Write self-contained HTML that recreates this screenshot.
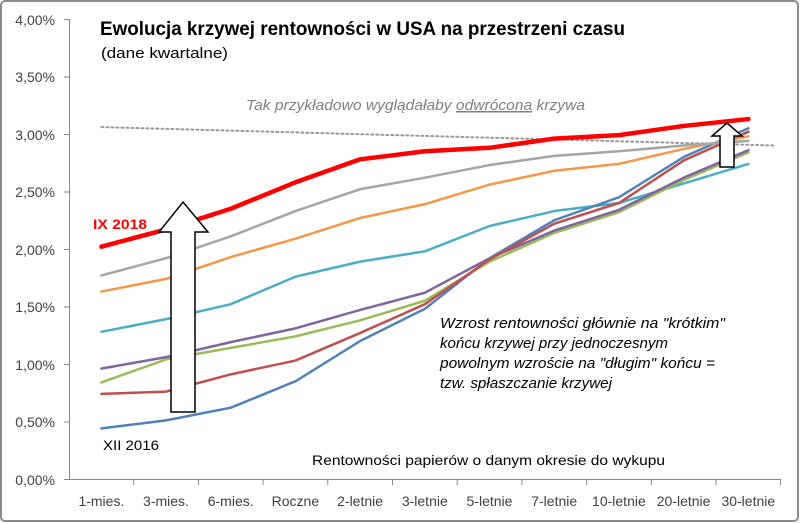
<!DOCTYPE html>
<html><head><meta charset="utf-8"><style>
html,body{margin:0;padding:0;background:#fff;}
svg{display:block;font-family:"Liberation Sans",sans-serif;}
</style></head><body>
<svg width="800" height="523" viewBox="0 0 800 523">
<rect x="1" y="1" width="797" height="520" rx="4" fill="#fff" stroke="#8c8c8c" stroke-width="2"/>
<g stroke="#888" stroke-width="1">
<line x1="69.5" y1="19" x2="69.5" y2="479"/>
<line x1="69" y1="479.5" x2="781" y2="479.5"/>
<line x1="64" y1="19.5" x2="69" y2="19.5"/><line x1="64" y1="77" x2="69" y2="77"/>
<line x1="64" y1="134.5" x2="69" y2="134.5"/><line x1="64" y1="192" x2="69" y2="192"/>
<line x1="64" y1="249.5" x2="69" y2="249.5"/><line x1="64" y1="307" x2="69" y2="307"/>
<line x1="64" y1="364.5" x2="69" y2="364.5"/><line x1="64" y1="422" x2="69" y2="422"/>
<line x1="64" y1="479.5" x2="69" y2="479.5"/>
<line x1="133.7" y1="479" x2="133.7" y2="485"/><line x1="198.4" y1="479" x2="198.4" y2="485"/>
<line x1="263.1" y1="479" x2="263.1" y2="485"/><line x1="327.8" y1="479" x2="327.8" y2="485"/>
<line x1="392.5" y1="479" x2="392.5" y2="485"/><line x1="457.2" y1="479" x2="457.2" y2="485"/>
<line x1="521.9" y1="479" x2="521.9" y2="485"/><line x1="586.6" y1="479" x2="586.6" y2="485"/>
<line x1="651.3" y1="479" x2="651.3" y2="485"/><line x1="716" y1="479" x2="716" y2="485"/>
<line x1="780.5" y1="479" x2="780.5" y2="485"/>
</g>
<g font-size="14" fill="#404040" text-anchor="end">
<text x="55" y="25">4,00%</text><text x="55" y="82">3,50%</text><text x="55" y="140">3,00%</text>
<text x="55" y="197">2,50%</text><text x="55" y="255">2,00%</text><text x="55" y="312">1,50%</text>
<text x="55" y="370">1,00%</text><text x="55" y="427">0,50%</text><text x="55" y="485">0,00%</text>
</g>
<g font-size="14" fill="#404040" text-anchor="middle">
<text x="101.4" y="506">1-mies.</text><text x="166" y="506">3-mies.</text><text x="230.7" y="506">6-mies.</text>
<text x="295.4" y="506">Roczne</text><text x="360.1" y="506">2-letnie</text><text x="424.8" y="506">3-letnie</text>
<text x="489.5" y="506">5-letnie</text><text x="554.2" y="506">7-letnie</text><text x="618.9" y="506">10-letnie</text>
<text x="683.6" y="506">20-letnie</text><text x="748.3" y="506">30-letnie</text>
</g>
<text x="100" y="35" font-size="19" font-weight="bold" fill="#000" textLength="525" lengthAdjust="spacingAndGlyphs">Ewolucja krzywej rentowności w USA na przestrzeni czasu</text>
<text x="101" y="58" font-size="15" fill="#000" textLength="127" lengthAdjust="spacingAndGlyphs">(dane kwartalne)</text>
<text x="246" y="110" font-size="15" font-style="italic" fill="#808080" textLength="339" lengthAdjust="spacingAndGlyphs">Tak przykładowo wyglądałaby <tspan text-decoration="underline">odwrócona</tspan> krzywa</text>
<g transform="translate(101.4,479) scale(64.7,-115)" fill="none" stroke-linejoin="round" stroke-linecap="round">
<polyline vector-effect="non-scaling-stroke" stroke="#999" stroke-width="2" stroke-dasharray="2,3" points="0,3.06 10.4,2.9"/>
<polyline vector-effect="non-scaling-stroke" stroke="#4aacc6" stroke-width="2.5" points="0,1.28 1,1.39 2,1.52 3,1.76 4,1.89 5,1.98 6,2.20 7,2.33 8,2.40 9,2.57 10,2.74"/>
<polyline vector-effect="non-scaling-stroke" stroke="#9bbb59" stroke-width="2.5" points="0,0.84 1,1.04 2,1.14 3,1.24 4,1.38 5,1.55 6,1.89 7,2.14 8,2.32 9,2.60 10,2.84"/>
<polyline vector-effect="non-scaling-stroke" stroke="#8064a2" stroke-width="2.5" points="0,0.96 1,1.06 2,1.19 3,1.31 4,1.47 5,1.62 6,1.92 7,2.16 8,2.34 9,2.62 10,2.86"/>
<polyline vector-effect="non-scaling-stroke" stroke="#4f81bd" stroke-width="2.5" points="0,0.44 1,0.51 2,0.62 3,0.85 4,1.20 5,1.48 6,1.92 7,2.25 8,2.45 9,2.80 10,3.05"/>
<polyline vector-effect="non-scaling-stroke" stroke="#c0504d" stroke-width="2.5" points="0,0.74 1,0.76 2,0.91 3,1.03 4,1.27 5,1.52 6,1.91 7,2.22 8,2.40 9,2.77 10,3.02"/>
<polyline vector-effect="non-scaling-stroke" stroke="#f79646" stroke-width="2.5" points="0,1.63 1,1.74 2,1.93 3,2.09 4,2.27 5,2.39 6,2.56 7,2.68 8,2.74 9,2.87 10,2.98"/>
<polyline vector-effect="non-scaling-stroke" stroke="#a5a5a5" stroke-width="2.5" points="0,1.77 1,1.92 2,2.11 3,2.33 4,2.52 5,2.62 6,2.73 7,2.81 8,2.85 9,2.90 10,2.94"/>
<polyline vector-effect="non-scaling-stroke" stroke="#ff0000" stroke-width="4.5" points="0,2.02 1,2.17 2,2.35 3,2.58 4,2.78 5,2.85 6,2.88 7,2.96 8,2.99 9,3.07 10,3.13"/>
</g>
<polygon points="171,412 195,412 195,232 208,232 183,202 159,232 171,232" fill="#fff" stroke="#000" stroke-width="1.5"/>
<polygon points="720,167 734,167 734,136 742,136 727,123 712,136 720,136" fill="#fff" stroke="#000" stroke-width="1.5"/>
<text x="93" y="229" font-size="14" font-weight="bold" fill="#ff0000" textLength="54" lengthAdjust="spacingAndGlyphs">IX 2018</text>
<text x="103" y="450" font-size="14" fill="#000" textLength="56" lengthAdjust="spacingAndGlyphs">XII 2016</text>
<text x="312" y="465" font-size="14" fill="#000" textLength="353" lengthAdjust="spacingAndGlyphs">Rentowności papierów o danym okresie do wykupu</text>
<g font-size="15" font-style="italic" fill="#000">
<text x="440" y="328" textLength="285" lengthAdjust="spacingAndGlyphs">Wzrost rentowności głównie na "krótkim"</text>
<text x="440" y="348" textLength="228" lengthAdjust="spacingAndGlyphs">końcu krzywej przy jednoczesnym</text>
<text x="440" y="368" textLength="275" lengthAdjust="spacingAndGlyphs">powolnym wzroście na "długim" końcu =</text>
<text x="440" y="388" textLength="172" lengthAdjust="spacingAndGlyphs">tzw. spłaszczanie krzywej</text>
</g>
</svg>
</body></html>
